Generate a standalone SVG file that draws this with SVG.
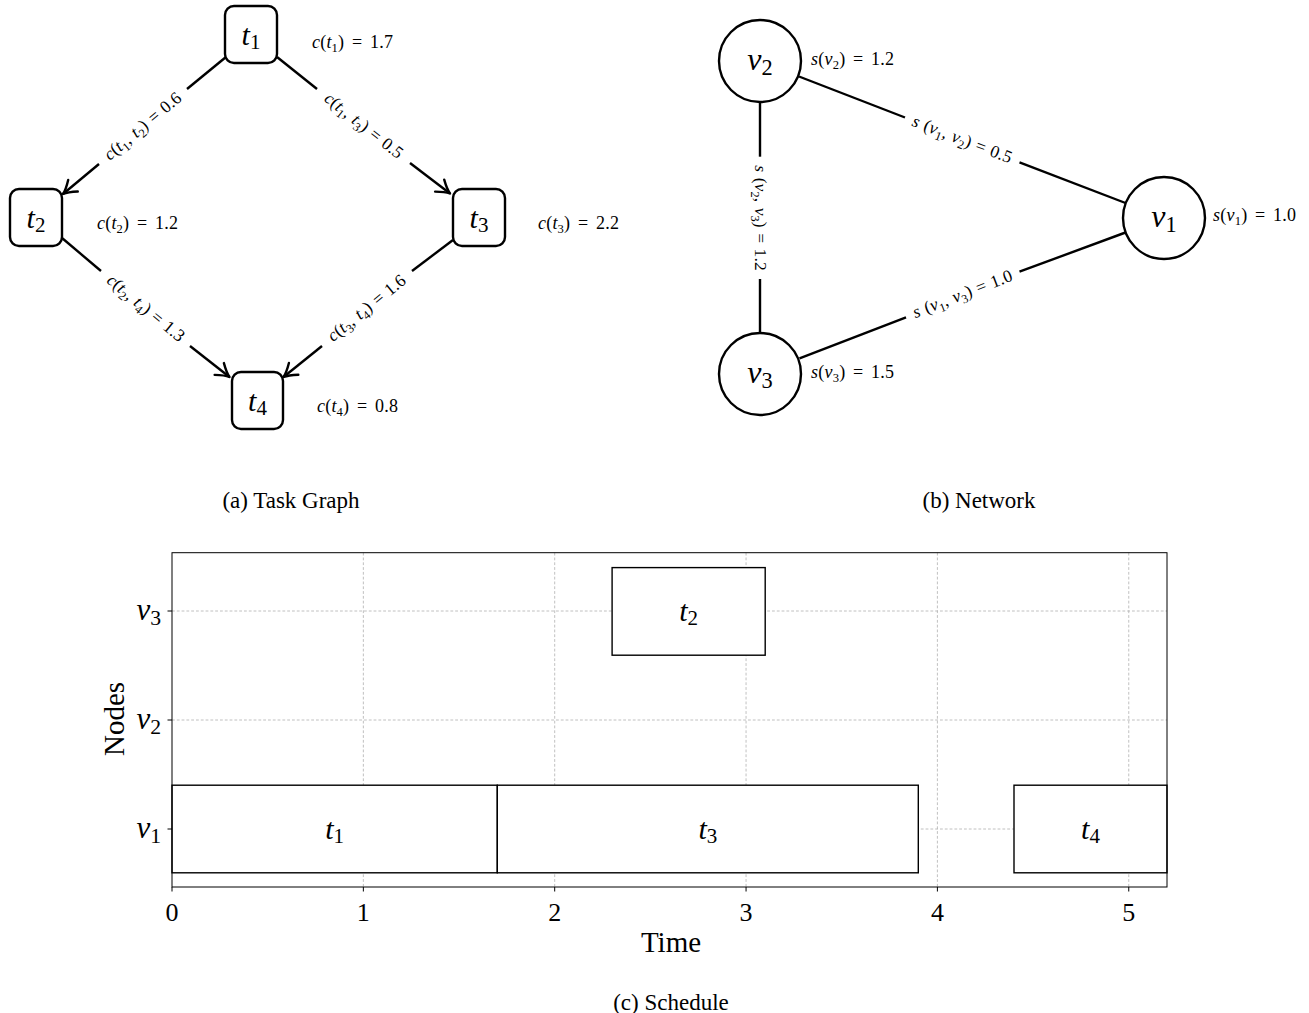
<svg xmlns="http://www.w3.org/2000/svg" width="1309" height="1013" viewBox="0 0 1309 1013">
<defs>
<style>
text{font-family:"Liberation Serif","Times New Roman",serif;fill:#000}
.i{font-style:italic}
.s{font-size:70%}
.lbl{font-size:18px;letter-spacing:0.2px;word-spacing:3px}
.el{font-size:17.5px;letter-spacing:0.1px;word-spacing:1px}
.tn{font-size:30px}
.vn{font-size:32px}
.yl{font-size:31px}
.box{fill:#fff;stroke:#000;stroke-width:2.4}
.circ{fill:#fff;stroke:#000;stroke-width:2.4}
.edge{stroke:#000;stroke-width:2.4;fill:none;stroke-linecap:butt}
.cap{font-size:23px}
.grid{stroke:#b0b0b0;stroke-width:0.8;stroke-dasharray:2.8,2}
.bar{fill:#fff;stroke:#000;stroke-width:1.4}
.spine{fill:none;stroke:#000;stroke-width:1}
.tick{stroke:#000;stroke-width:1}
.tl{font-size:26px}
.al{font-size:29px}
.bl{font-size:30px}
</style>
<marker id="arr" markerUnits="userSpaceOnUse" viewBox="-16 -10 20 20" refX="0" refY="0" markerWidth="20" markerHeight="20" orient="auto" overflow="visible">
<path d="M-13,-7.5 Q-5,-1.5 0,0 Q-5,1.5 -13,7.5" fill="none" stroke="#000" stroke-width="2.4" stroke-linecap="round" stroke-linejoin="round"/>
</marker>
</defs>
<rect width="1309" height="1013" fill="#fff"/>

<!-- (a) Task graph -->
<g id="taskgraph-edges">
<path class="edge" d="M226,57 L187,89"/>
<path class="edge" d="M99,164 L63,194" marker-end="url(#arr)"/>
<path class="edge" d="M277,57 L317,89"/>
<path class="edge" d="M410,163 L450,193.5" marker-end="url(#arr)"/>
<path class="edge" d="M62,238 L101,271"/>
<path class="edge" d="M190,346 L229.5,377" marker-end="url(#arr)"/>
<path class="edge" d="M453,240 L412,271"/>
<path class="edge" d="M322,346 L283.5,377" marker-end="url(#arr)"/>
<text class="el" text-anchor="middle" transform="translate(143,126.5) rotate(-40)" y="5"><tspan class="i">c</tspan>(<tspan class="i">t</tspan><tspan class="s" dy="4">1</tspan><tspan dy="-4">, </tspan><tspan class="i">t</tspan><tspan class="s" dy="4">2</tspan><tspan dy="-4">) = 0.6</tspan></text>
<text class="el" text-anchor="middle" transform="translate(363.5,126) rotate(38.5)" y="5"><tspan class="i">c</tspan>(<tspan class="i">t</tspan><tspan class="s" dy="4">1</tspan><tspan dy="-4">, </tspan><tspan class="i">t</tspan><tspan class="s" dy="4">3</tspan><tspan dy="-4">) = 0.5</tspan></text>
<text class="el" text-anchor="middle" transform="translate(145.5,308.5) rotate(39.6)" y="5"><tspan class="i">c</tspan>(<tspan class="i">t</tspan><tspan class="s" dy="4">2</tspan><tspan dy="-4">, </tspan><tspan class="i">t</tspan><tspan class="s" dy="4">4</tspan><tspan dy="-4">) = 1.3</tspan></text>
<text class="el" text-anchor="middle" transform="translate(367,308.5) rotate(-38.9)" y="5"><tspan class="i">c</tspan>(<tspan class="i">t</tspan><tspan class="s" dy="4">3</tspan><tspan dy="-4">, </tspan><tspan class="i">t</tspan><tspan class="s" dy="4">4</tspan><tspan dy="-4">) = 1.6</tspan></text>
</g>
<g id="t1">
<rect class="box" x="225" y="6" width="52" height="57" rx="9"/>
<text class="tn" x="251" y="45" text-anchor="middle"><tspan class="i">t</tspan><tspan class="s" dy="4">1</tspan></text>
<text class="lbl" x="312" y="48"><tspan class="i">c</tspan>(<tspan class="i">t</tspan><tspan class="s" dy="4">1</tspan><tspan dy="-4">) = 1.7</tspan></text>
</g>
<g id="t2">
<rect class="box" x="10" y="189" width="52" height="57" rx="9"/>
<text class="tn" x="36" y="228" text-anchor="middle"><tspan class="i">t</tspan><tspan class="s" dy="4">2</tspan></text>
<text class="lbl" x="97" y="229"><tspan class="i">c</tspan>(<tspan class="i">t</tspan><tspan class="s" dy="4">2</tspan><tspan dy="-4">) = 1.2</tspan></text>
</g>
<g id="t3">
<rect class="box" x="453" y="189" width="52" height="57" rx="9"/>
<text class="tn" x="479" y="228" text-anchor="middle"><tspan class="i">t</tspan><tspan class="s" dy="4">3</tspan></text>
<text class="lbl" x="538" y="229"><tspan class="i">c</tspan>(<tspan class="i">t</tspan><tspan class="s" dy="4">3</tspan><tspan dy="-4">) = 2.2</tspan></text>
</g>
<g id="t4">
<rect class="box" x="232" y="372" width="51" height="57" rx="9"/>
<text class="tn" x="257.5" y="411" text-anchor="middle"><tspan class="i">t</tspan><tspan class="s" dy="4">4</tspan></text>
<text class="lbl" x="317" y="412"><tspan class="i">c</tspan>(<tspan class="i">t</tspan><tspan class="s" dy="4">4</tspan><tspan dy="-4">) = 0.8</tspan></text>
</g>
<text class="cap" x="291" y="508" text-anchor="middle">(a) Task Graph</text>

<!-- (b) Network -->
<g id="network-edges">
<path class="edge" d="M799,76.5 L905,117.5"/>
<path class="edge" d="M1019.5,162.3 L1125.5,203"/>
<path class="edge" d="M1125.5,232.5 L1019.5,271.7"/>
<path class="edge" d="M906,317.3 L799.5,358.3"/>
<path class="edge" d="M760,102 L760,156.7"/>
<path class="edge" d="M760,279 L760,333"/>
<text class="el" text-anchor="middle" transform="translate(962,139.8) rotate(21.1)" y="5"><tspan class="i">s</tspan> (<tspan class="i">v</tspan><tspan class="s" dy="4">1</tspan><tspan dy="-4">, </tspan><tspan class="i">v</tspan><tspan class="s" dy="4">2</tspan><tspan dy="-4">) = 0.5</tspan></text>
<text class="el" text-anchor="middle" transform="translate(962.7,294.5) rotate(-21.1)" y="5"><tspan class="i">s</tspan> (<tspan class="i">v</tspan><tspan class="s" dy="4">1</tspan><tspan dy="-4">, </tspan><tspan class="i">v</tspan><tspan class="s" dy="4">3</tspan><tspan dy="-4">) = 1.0</tspan></text>
<text class="el" text-anchor="middle" transform="translate(760,218) rotate(90)" y="5"><tspan class="i">s</tspan> (<tspan class="i">v</tspan><tspan class="s" dy="4">2</tspan><tspan dy="-4">, </tspan><tspan class="i">v</tspan><tspan class="s" dy="4">3</tspan><tspan dy="-4">) = 1.2</tspan></text>
</g>
<g id="v2">
<circle class="circ" cx="760" cy="61" r="41"/>
<text class="vn" x="760" y="70" text-anchor="middle"><tspan class="i">v</tspan><tspan class="s" dy="5">2</tspan></text>
<text class="lbl" x="811" y="65"><tspan class="i">s</tspan>(<tspan class="i">v</tspan><tspan class="s" dy="4">2</tspan><tspan dy="-4">) = 1.2</tspan></text>
</g>
<g id="v1">
<circle class="circ" cx="1164" cy="218" r="41"/>
<text class="vn" x="1164" y="227" text-anchor="middle"><tspan class="i">v</tspan><tspan class="s" dy="5">1</tspan></text>
<text class="lbl" x="1213" y="221"><tspan class="i">s</tspan>(<tspan class="i">v</tspan><tspan class="s" dy="4">1</tspan><tspan dy="-4">) = 1.0</tspan></text>
</g>
<g id="v3">
<circle class="circ" cx="760" cy="374" r="41"/>
<text class="vn" x="760" y="383" text-anchor="middle"><tspan class="i">v</tspan><tspan class="s" dy="5">3</tspan></text>
<text class="lbl" x="811" y="378"><tspan class="i">s</tspan>(<tspan class="i">v</tspan><tspan class="s" dy="4">3</tspan><tspan dy="-4">) = 1.5</tspan></text>
</g>
<text class="cap" x="979" y="508" text-anchor="middle">(b) Network</text>

<!-- (c) Schedule -->
<g id="schedule">
<g id="grid">
<line class="grid" x1="363.35" y1="552.7" x2="363.35" y2="887"/>
<line class="grid" x1="554.7" y1="552.7" x2="554.7" y2="887"/>
<line class="grid" x1="746.05" y1="552.7" x2="746.05" y2="887"/>
<line class="grid" x1="937.4" y1="552.7" x2="937.4" y2="887"/>
<line class="grid" x1="1128.75" y1="552.7" x2="1128.75" y2="887"/>
<line class="grid" x1="172" y1="611" x2="1167" y2="611"/>
<line class="grid" x1="172" y1="720" x2="1167" y2="720"/>
<line class="grid" x1="172" y1="829" x2="1167" y2="829"/>
</g>
<g id="bar-t1">
<rect class="bar" x="172" y="785.2" width="325.3" height="87.6"/>
<text class="bl" x="334.6" y="839" text-anchor="middle"><tspan class="i">t</tspan><tspan class="s" dy="4">1</tspan></text>
</g>
<g id="bar-t3">
<rect class="bar" x="497.3" y="785.2" width="421" height="87.6"/>
<text class="bl" x="707.8" y="839" text-anchor="middle"><tspan class="i">t</tspan><tspan class="s" dy="4">3</tspan></text>
</g>
<g id="bar-t4">
<rect class="bar" x="1014" y="785.2" width="153" height="87.6"/>
<text class="bl" x="1090.5" y="839" text-anchor="middle"><tspan class="i">t</tspan><tspan class="s" dy="4">4</tspan></text>
</g>
<g id="bar-t2">
<rect class="bar" x="612.1" y="567.6" width="153.1" height="87.6"/>
<text class="bl" x="688.6" y="621" text-anchor="middle"><tspan class="i">t</tspan><tspan class="s" dy="4">2</tspan></text>
</g>
<rect class="spine" x="172" y="552.7" width="995" height="334.3"/>
<g id="ticks">
<line class="tick" x1="172" y1="887" x2="172" y2="891.5"/>
<line class="tick" x1="363.35" y1="887" x2="363.35" y2="891.5"/>
<line class="tick" x1="554.7" y1="887" x2="554.7" y2="891.5"/>
<line class="tick" x1="746.05" y1="887" x2="746.05" y2="891.5"/>
<line class="tick" x1="937.4" y1="887" x2="937.4" y2="891.5"/>
<line class="tick" x1="1128.75" y1="887" x2="1128.75" y2="891.5"/>
<line class="tick" x1="167.5" y1="611" x2="172" y2="611"/>
<line class="tick" x1="167.5" y1="720" x2="172" y2="720"/>
<line class="tick" x1="167.5" y1="829" x2="172" y2="829"/>
<text class="tl" x="172" y="921" text-anchor="middle">0</text>
<text class="tl" x="363.35" y="921" text-anchor="middle">1</text>
<text class="tl" x="554.7" y="921" text-anchor="middle">2</text>
<text class="tl" x="746.05" y="921" text-anchor="middle">3</text>
<text class="tl" x="937.4" y="921" text-anchor="middle">4</text>
<text class="tl" x="1128.75" y="921" text-anchor="middle">5</text>
<text class="yl" x="161" y="620" text-anchor="end"><tspan class="i">v</tspan><tspan class="s" dy="5">3</tspan></text>
<text class="yl" x="161" y="729" text-anchor="end"><tspan class="i">v</tspan><tspan class="s" dy="5">2</tspan></text>
<text class="yl" x="161" y="838" text-anchor="end"><tspan class="i">v</tspan><tspan class="s" dy="5">1</tspan></text>
</g>
<text class="al" x="671" y="952" text-anchor="middle">Time</text>
<text class="al" text-anchor="middle" transform="translate(124,719) rotate(-90)">Nodes</text>
</g>
<text class="cap" x="671" y="1010" text-anchor="middle">(c) Schedule</text>
</svg>
